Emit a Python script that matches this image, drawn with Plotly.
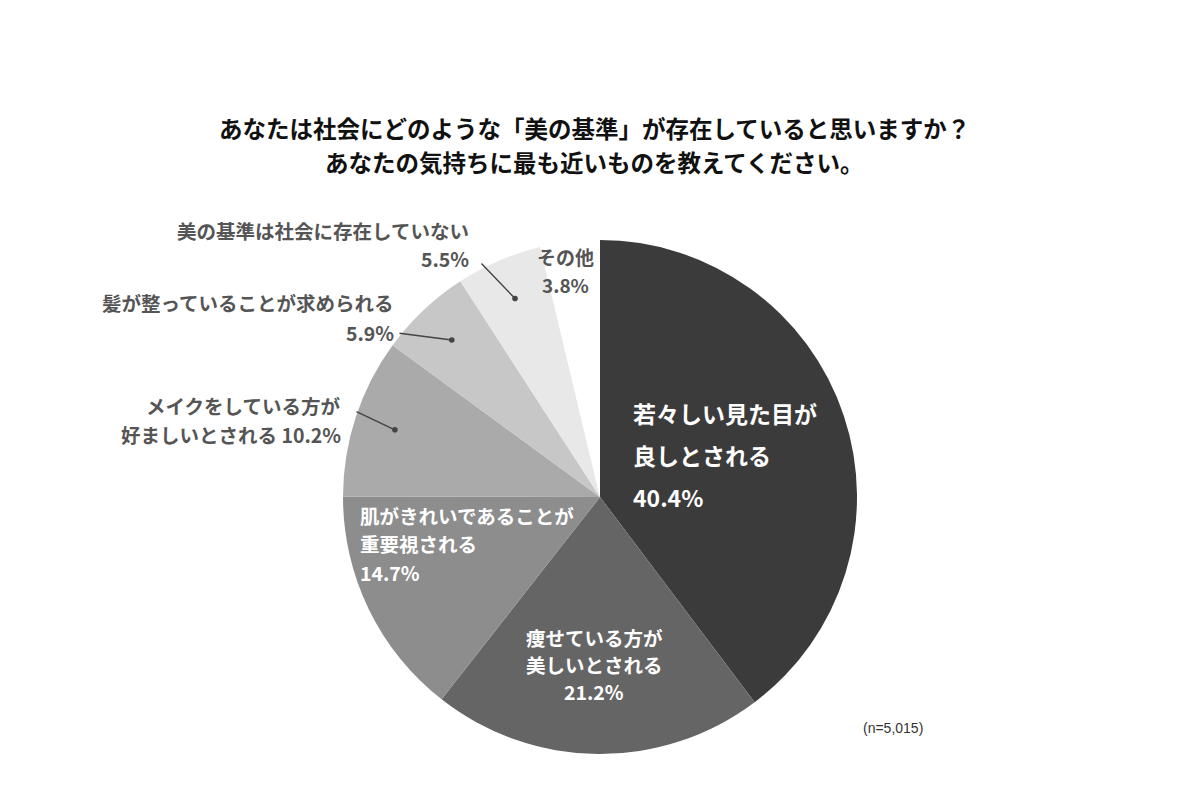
import math
import plotly.graph_objects as go

# Chart data
categories = [
    "若々しい見た目が良しとされる",
    "痩せている方が美しいとされる",
    "肌がきれいであることが重要視される",
    "メイクをしている方が好ましいとされる",
    "髪が整っていることが求められる",
    "美の基準は社会に存在していない",
    "その他",
]
shares = [40.4, 21.2, 14.7, 10.2, 5.9, 5.5, 3.8]
label_lines = [
    ["若々しい見た目が", "良しとされる", "{p}"],
    ["痩せている方が", "美しいとされる", "{p}"],
    ["肌がきれいであることが", "重要視される", "{p}"],
    ["メイクをしている方が", "好ましいとされる {p}"],
    ["髪が整っていることが求められる", "{p}"],
    ["美の基準は社会に存在していない", "{p}"],
    ["その他", "{p}"],
]
title_lines = [
    "あなたは社会にどのような「美の基準」が存在していると思いますか？",
    "あなたの気持ちに最も近いものを教えてください。",
]
sample_note = "(n=5,015)"

# Styling / layout
colors = ["#3b3b3b", "#656565", "#8d8d8d", "#aaaaaa", "#c7c7c7", "#e8e8e8", "#ffffff"]
PAGE_MARGIN = 8          # default body margin of the html page
W, H = 1200 - PAGE_MARGIN, 800 - PAGE_MARGIN
CX, CY, R = 600, 497, 257
FONT = "Noto Sans CJK JP"
GREY = "#555555"

# per-slice label placement (page pixels): y is the middle of the text block
label_style = [
    dict(x=632, y=455, gap=42, anchor="left", size=23, color="white"),
    dict(x=594, y=664, gap=27, anchor="center", size=19.5, color="white"),
    dict(x=359, y=543.5, gap=28.5, anchor="left", size=19.5, color="white"),
    dict(x=342, y=420, gap=28.5, anchor="right", size=19.5, color=GREY, tail=(355, 411)),
    dict(x=395, y=317.5, gap=29, anchor="right", size=19.5, color=GREY, tail=(398, 333)),
    dict(x=470, y=244.5, gap=28.5, anchor="right", size=19.5, color=GREY, tail=(480, 262)),
    dict(x=565, y=270.5, gap=28, anchor="center", size=19, color=GREY),
]
DOT_R = 0.84


def paper_x(x):
    return (x - PAGE_MARGIN) / W


def paper_y(y):
    return 1 - (y - PAGE_MARGIN) / H


fig = go.Figure()

fig.add_trace(go.Pie(
    labels=categories,
    values=shares,
    sort=False,
    direction="clockwise",
    rotation=0,
    textinfo="none",
    hoverinfo="label+value",
    marker=dict(colors=colors, line=dict(width=0)),
    showlegend=False,
    domain=dict(x=[paper_x(CX - R), paper_x(CX + R)],
                y=[paper_y(CY + R), paper_y(CY - R)]),
))

annotations = []

# title
for i, line in enumerate(title_lines):
    annotations.append(dict(
        text=line, x=paper_x(594), y=paper_y(128 + i * 34),
        xref="paper", yref="paper", xanchor="center", yanchor="middle",
        showarrow=False,
        font=dict(family=FONT, size=23.5, color="#111111", weight="bold"),
    ))

# slice labels and leader lines
total = sum(shares)
cum = 0
for v, lines, st in zip(shares, label_lines, label_style):
    theta = math.radians(360 * (cum + v / 2) / total)
    cum += v
    pct = f"{v:.1f}%"
    texts = [line.format(p=pct) for line in lines]
    font = dict(family=FONT, size=st["size"], color=st["color"], weight="bold")
    top = st["y"] - st["gap"] * (len(texts) - 1) / 2
    for i, t in enumerate(texts):
        annotations.append(dict(
            text=t, x=paper_x(st["x"]), y=paper_y(top + i * st["gap"]),
            xref="paper", yref="paper", xanchor=st["anchor"], yanchor="middle",
            showarrow=False, borderpad=0, font=font,
        ))
    if "tail" in st:
        dx = CX + DOT_R * R * math.sin(theta)
        dy = CY - DOT_R * R * math.cos(theta)
        annotations.append(dict(
            text="", x=paper_x(dx), y=paper_y(dy), xref="paper", yref="paper",
            showarrow=True, ax=st["tail"][0] - dx, ay=st["tail"][1] - dy,
            arrowhead=6, arrowsize=1, arrowwidth=1.4, arrowcolor="#444444",
            standoff=0, startstandoff=0,
        ))

# sample size note
annotations.append(dict(
    text=sample_note, x=paper_x(893), y=paper_y(728), xref="paper", yref="paper",
    xanchor="center", yanchor="middle", showarrow=False,
    font=dict(family="Liberation Sans", size=14, color="#333333"),
))

fig.update_layout(
    width=W, height=H,
    margin=dict(l=0, r=0, t=0, b=0),
    paper_bgcolor="white",
    plot_bgcolor="white",
    annotations=annotations,
)

fig.write_html("out.html")
